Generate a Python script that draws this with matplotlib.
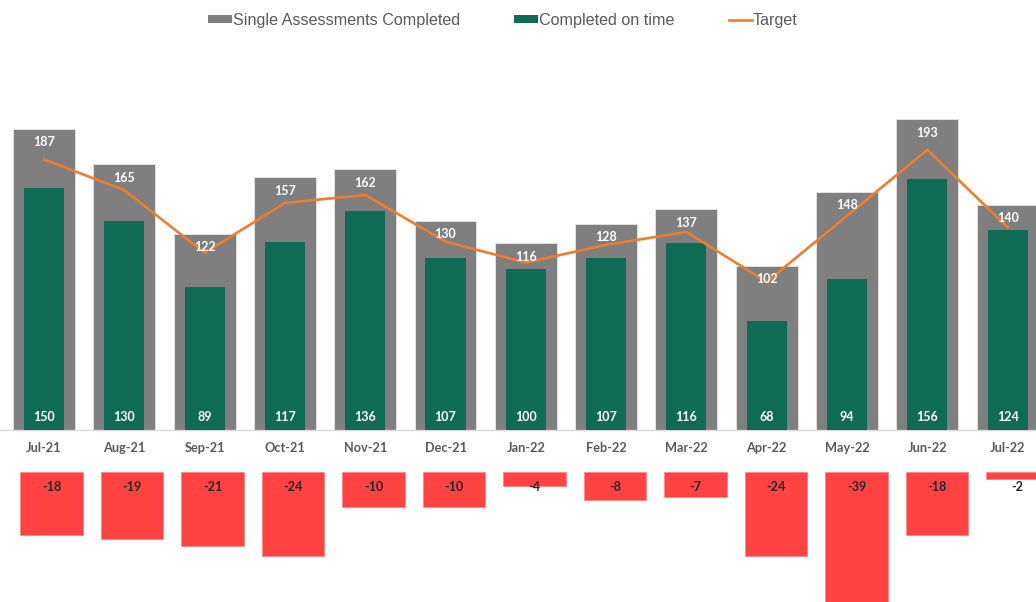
import matplotlib
matplotlib.use("Agg")
import matplotlib.pyplot as plt
from matplotlib.patches import Patch
from matplotlib.lines import Line2D

months = ["Jul-21", "Aug-21", "Sep-21", "Oct-21", "Nov-21", "Dec-21", "Jan-22",
          "Feb-22", "Mar-22", "Apr-22", "May-22", "Jun-22", "Jul-22"]
completed = [187, 165, 122, 157, 162, 130, 116, 128, 137, 102, 148, 193, 140]
on_time = [150, 130, 89, 117, 136, 107, 100, 107, 116, 68, 94, 156, 124]
target = [168, 149, 110, 141, 146, 117, 104, 115, 123, 92, 133, 174, 126]
shortfall = [-18, -19, -21, -24, -10, -10, -4, -8, -7, -24, -39, -18, -2]

GREY = "#7F7F7F"
GREEN = "#0F6B53"
ORANGE = "#ED7D31"
RED = "#FF4242"
TXT = "#595959"
LABEL_FONT = "Lato"

W, H = 1036, 602
fig = plt.figure(figsize=(W / 100, H / 100), dpi=100)

# ---- top chart ----
base_px = 430
ax = fig.add_axes([0, (H - base_px) / H, 1, base_px / H])
x = list(range(len(months)))
ax.bar(x, completed, width=0.77, color=GREY, edgecolor="#E6E6E6", linewidth=0.6, zorder=2)
ax.bar(x, on_time, width=0.5, color=GREEN, zorder=3)
ax.plot(x, target, color=ORANGE, lw=1.9, zorder=4)
ax.set_xlim(-44 / 80.3, -44 / 80.3 + W / 80.3)
ax.set_ylim(0, base_px / 1.61)
for s in ["top", "left", "right"]:
    ax.spines[s].set_visible(False)
ax.spines["bottom"].set_color("#D9D9D9")
ax.spines["bottom"].set_linewidth(1.0)
ax.set_yticks([])
ax.set_xticks(x)
ax.set_xticklabels(months, fontsize=9.2, fontweight="bold", color=TXT, family=LABEL_FONT)
ax.tick_params(axis="x", length=0, pad=8.5)

for i in x:
    ax.annotate(str(completed[i]), (i, completed[i]), xytext=(0, -13.5), textcoords="offset pixels",
                ha="center", va="center", color="white", fontsize=9, fontweight="bold",
                family=LABEL_FONT, zorder=5)
    ax.annotate(str(on_time[i]), (i, 0), xytext=(0, 13), textcoords="offset pixels",
                ha="center", va="center", color="white", fontsize=9, fontweight="bold",
                family=LABEL_FONT, zorder=5)

# ---- bottom chart ----
bot_px = 130
ax2 = fig.add_axes([0, 0, 1, bot_px / H])
ax2.bar(x, shortfall, width=0.78, color=RED, edgecolor="#FF8080", linewidth=0.5)
ax2.set_xlim(-51.5 / 80.5, -51.5 / 80.5 + W / 80.5)
ax2.set_ylim(-bot_px / 3.5, 0)
ax2.axis("off")
for i in x:
    ax2.annotate(str(shortfall[i]), (i, 0), xytext=(0, -15), textcoords="offset pixels",
                 ha="center", va="center", color="#262626", fontsize=9, fontweight="bold",
                 family=LABEL_FONT)

# ---- legend ----
handles = [
    Patch(facecolor=GREY, edgecolor="none"),
    Patch(facecolor=GREEN, edgecolor="none"),
    Line2D([], [], color=ORANGE, lw=1.9),
]
labels = ["Single Assessments Completed", "Completed on time", "Target"]
leg = fig.legend(handles, labels, loc="center", bbox_to_anchor=(503 / W, 1 - 20 / H), ncol=3,
                 frameon=False, prop={"family": "Liberation Sans", "size": 11.6},
                 handlelength=1.45, handleheight=0.4, handletextpad=0.05, columnspacing=3.4)
for t in leg.get_texts():
    t.set_color(TXT)

fig.savefig("out.png", dpi=100)
